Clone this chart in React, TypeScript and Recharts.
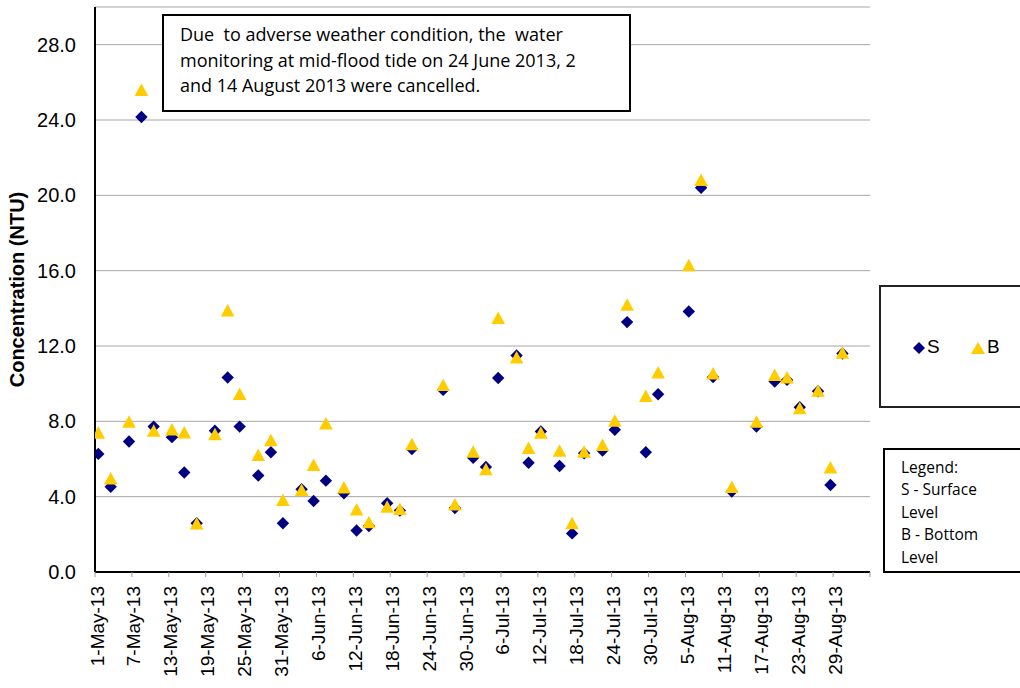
import React from 'react';
import { ScatterChart, Scatter, XAxis, YAxis, CartesianGrid, Legend } from 'recharts';

// Sampling times: days since 1-May-2013 (fractional = time of day)
const sampleDays = [
  0.54, 2.55, 5.53, 7.55, 9.54, 12.51, 14.51, 16.53, 19.5, 21.57,
  23.52, 26.54, 28.6, 30.55, 33.59, 35.54, 37.54, 40.47, 42.53, 44.53,
  47.5, 49.57, 51.52, 56.6, 58.51, 61.48, 63.55, 65.55, 68.54, 70.49,
  72.49, 75.53, 77.57, 79.52, 82.51, 84.51, 86.51, 89.55, 91.55, 96.54,
  98.54, 100.49, 103.53, 107.54, 110.51, 112.51, 114.58, 117.55, 119.57, 121.52,
];
const surfaceNTU = [
  6.27, 4.53, 6.93, 24.16, 7.72, 7.16, 5.28, 2.59, 7.5, 10.33,
  7.72, 5.12, 6.36, 2.59, 4.39, 3.77, 4.85, 4.18, 2.2, 2.44,
  3.65, 3.26, 6.53, 9.67, 3.4, 6.06, 5.58, 10.3, 11.5, 5.8,
  7.46, 5.63, 2.05, 6.3, 6.45, 7.55, 13.27, 6.36, 9.44, 13.83,
  20.4, 10.35, 4.27, 7.72, 10.11, 10.2, 8.75, 9.6, 4.62, 11.6,
];
const bottomNTU = [
  7.4, 4.98, 7.99, 25.61, 7.51, 7.58, 7.42, 2.59, 7.33, 13.89,
  9.46, 6.22, 7.01, 3.83, 4.36, 5.69, 7.9, 4.5, 3.33, 2.65,
  3.47, 3.35, 6.8, 9.94, 3.6, 6.4, 5.47, 13.5, 11.4, 6.6,
  7.4, 6.45, 2.6, 6.4, 6.75, 8.04, 14.2, 9.35, 10.6, 16.3,
  20.83, 10.55, 4.53, 7.99, 10.47, 10.34, 8.7, 9.63, 5.56, 11.65,
];
const xTickDays = [0, 6, 12, 18, 24, 30, 36, 42, 48, 54, 60, 66, 72, 78, 84, 90, 96, 102, 108, 114, 120, 126];
const xDomainEnd = 126;
const yTicks = [0, 4, 8, 12, 16, 20, 24, 28];
const yDomainEnd = 30;
const MONTHS = ['Jan', 'Feb', 'Mar', 'Apr', 'May', 'Jun', 'Jul', 'Aug', 'Sep', 'Oct', 'Nov', 'Dec'];
const START = Date.UTC(2013, 4, 1);

const surfaceData = sampleDays.map((d, i) => ({ day: d, v: surfaceNTU[i] }));
const bottomData = sampleDays.map((d, i) => ({ day: d, v: bottomNTU[i] }));

const NAVY = '#000080';
const GOLD = '#FFCC00';
const ARIAL = '"Liberation Sans", Arial, sans-serif';
const CAL = '"Open Sans", Lato, sans-serif';

const fmtDay = (d: number) => {
  if (d >= xDomainEnd) return '';
  const dt = new Date(START + d * 86400000);
  return `${dt.getUTCDate()}-${MONTHS[dt.getUTCMonth()]}-13`;
};

const Diamond = (props: any) => {
  const { cx, cy } = props;
  const r = 6.2;
  return <polygon points={`${cx},${cy - r} ${cx + r},${cy} ${cx},${cy + r} ${cx - r},${cy}`} fill={NAVY} />;
};
const Triangle = (props: any) => {
  const { cx, cy } = props;
  return <polygon points={`${cx},${cy - 6.3} ${cx + 6.8},${cy + 6.2} ${cx - 6.8},${cy + 6.2}`} fill={GOLD} />;
};

const XTick = (props: any) => {
  const { x, y, payload } = props;
  return (
    <text
      x={x}
      y={y}
      transform={`rotate(-90 ${x} ${y})`}
      textAnchor="end"
      dx={-7}
      dy="0.45em"
      fontSize={19}
      fontFamily={ARIAL}
      fill="#000"
    >
      {fmtDay(payload.value)}
    </text>
  );
};

const LegendBox = () => (
  <div
    style={{
      width: 200,
      height: 119,
      border: '2px solid #222',
      background: '#fff',
      position: 'relative',
      fontFamily: ARIAL,
      fontSize: 19,
      color: '#000',
    }}
  >
    <svg width={14} height={14} style={{ position: 'absolute', left: 31, top: 54 }}>
      <polygon points="7,1 13,7 7,13 1,7" fill={NAVY} />
    </svg>
    <span style={{ position: 'absolute', left: 46, top: 49 }}>S</span>
    <svg width={16} height={14} style={{ position: 'absolute', left: 89, top: 54 }}>
      <polygon points="8,1 15,13 1,13" fill={GOLD} />
    </svg>
    <span style={{ position: 'absolute', left: 106, top: 49 }}>B</span>
  </div>
);

export default function App() {
  return (
    <div style={{ position: 'absolute', left: 0, top: 0, width: 1020, height: 688, background: '#fff', overflow: 'hidden' }}>
      <ScatterChart width={1020} height={688} margin={{ top: 7, right: 150, bottom: 0, left: 0 }}>
        <CartesianGrid vertical={false} stroke="#a6a6a6" strokeWidth={1} />
        <XAxis
          dataKey="day"
          type="number"
          domain={[0, xDomainEnd]}
          ticks={xTickDays}
          interval={0}
          allowDataOverflow
          tick={<XTick />}
          tickSize={5}
          tickLine={{ stroke: '#999' }}
          axisLine={{ stroke: '#000', strokeWidth: 2 }}
          height={116}
        />
        <XAxis
          xAxisId="top"
          orientation="top"
          type="number"
          domain={[0, xDomainEnd]}
          tick={false}
          tickLine={false}
          axisLine={{ stroke: '#000', strokeWidth: 2 }}
          height={0}
        />
        <YAxis
          dataKey="v"
          type="number"
          domain={[0, yDomainEnd]}
          ticks={yTicks}
          interval={0}
          allowDataOverflow
          tickFormatter={(v: number) => v.toFixed(1)}
          tick={{ fill: '#000', fontSize: 20, fontFamily: ARIAL }}
          tickLine={false}
          tickSize={0}
          tickMargin={19}
          axisLine={{ stroke: '#000', strokeWidth: 2 }}
          width={95}
          label={{
            value: 'Concentration (NTU)',
            angle: -90,
            position: 'insideLeft',
            offset: 17,
            style: { textAnchor: 'middle', fontSize: 20, fontWeight: 'bold', fontFamily: ARIAL, fill: '#000' },
          }}
        />
        <YAxis
          yAxisId="right"
          orientation="right"
          type="number"
          domain={[0, yDomainEnd]}
          tick={false}
          tickLine={false}
          axisLine={{ stroke: '#000', strokeWidth: 2 }}
          width={0}
        />
        <Legend
          layout="horizontal"
          align="center"
          verticalAlign="middle"
          content={() => <LegendBox />}
          wrapperStyle={{ position: 'absolute', left: 879, top: 285, width: 200, height: 123 }}
        />
        <Scatter name="S" data={surfaceData} fill={NAVY} shape={<Diamond />} isAnimationActive={false} />
        <Scatter name="B" data={bottomData} fill={GOLD} shape={<Triangle />} isAnimationActive={false} />
      </ScatterChart>

      <div
        style={{
          position: 'absolute',
          left: 162,
          top: 14,
          width: 449,
          height: 88,
          border: '2px solid #000',
          background: '#fff',
          fontFamily: CAL,
          fontSize: 18,
          lineHeight: '25.7px',
          color: '#000',
          paddingLeft: 16,
          paddingTop: 6,
          boxSizing: 'content-box',
          whiteSpace: 'pre',
        }}
      >
        <div>{'Due  to adverse weather condition, the  water'}</div>
        <div>{'monitoring at mid-flood tide on 24 June 2013, 2'}</div>
        <div>{'and 14 August 2013 were cancelled.'}</div>
      </div>

      <div
        style={{
          position: 'absolute',
          left: 883,
          top: 448,
          width: 200,
          height: 125,
          border: '2px solid #000',
          background: '#fff',
          fontFamily: CAL,
          fontSize: 15.5,
          lineHeight: '22.4px',
          color: '#000',
          paddingLeft: 16,
          paddingTop: 6,
          boxSizing: 'border-box',
        }}
      >
        <div>Legend:</div>
        <div>S - Surface</div>
        <div>Level</div>
        <div>B - Bottom</div>
        <div>Level</div>
      </div>
    </div>
  );
}
